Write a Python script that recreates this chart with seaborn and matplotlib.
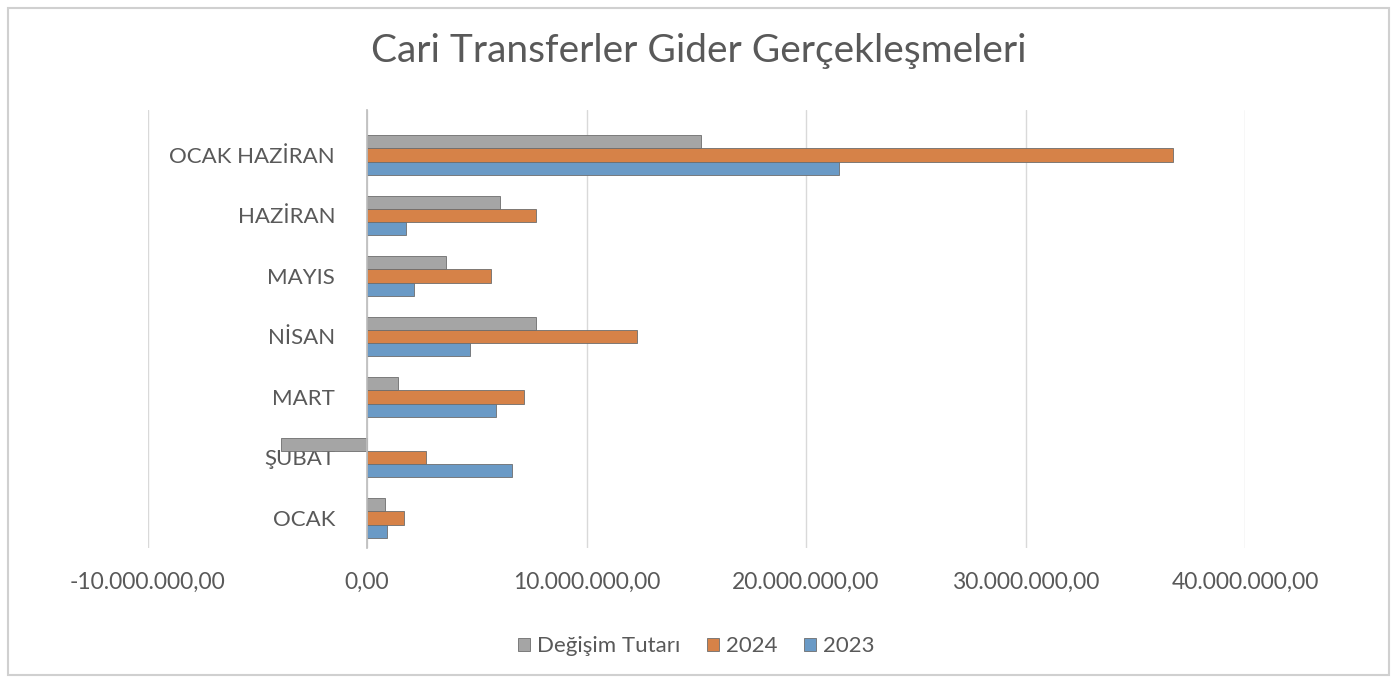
import matplotlib
matplotlib.use("Agg")
import matplotlib.pyplot as plt
import matplotlib.ticker as mticker
from matplotlib.patches import Rectangle
import seaborn as sns
import pandas as pd

# Data (TL)
months = ["OCAK HAZİRAN", "HAZİRAN", "MAYIS", "NİSAN", "MART", "ŞUBAT", "OCAK"]
degisim = [15.2e6, 6.06e6, 3.6e6, 7.7e6, 1.41e6, -3.92e6, 0.8e6]
y2024 = [36.7e6, 7.7e6, 5.65e6, 12.3e6, 7.15e6, 2.69e6, 1.7e6]
y2023 = [21.5e6, 1.78e6, 2.14e6, 4.7e6, 5.88e6, 6.6e6, 0.9e6]
series = ["Değişim Tutarı", "2024", "2023"]
colors = ["#A5A5A5", "#ED7D31", "#5B9BD5"]

df = pd.DataFrame({
    "ay": months * 3,
    "seri": [series[0]] * 7 + [series[1]] * 7 + [series[2]] * 7,
    "tutar": degisim + y2024 + y2023,
})

sns.set_theme(style="white")
plt.rcParams["font.family"] = ["Lato", "DejaVu Sans"]
text_col = "#595959"

fig = plt.figure(figsize=(13.97, 6.83), dpi=100)
ax = fig.add_axes([0.1056, 0.1973, 0.7856, 0.6422])

sns.barplot(data=df, y="ay", x="tutar", hue="seri", order=months, hue_order=series,
            palette=colors, orient="h", width=0.66, ax=ax, edgecolor="#6d6d6d", linewidth=0.6)

ax.set_xlim(-10e6, 40e6)
ax.set_ylim(6.5, -0.75)
ax.xaxis.set_major_locator(mticker.MultipleLocator(10e6))
ax.xaxis.set_major_formatter(mticker.FuncFormatter(
    lambda v, p: f"{v:,.2f}".replace(",", "X").replace(".", ",").replace("X", ".")))
ax.grid(axis="x", color="#D9D9D9", linewidth=1)
ax.set_axisbelow(True)
for s in ["top", "right", "bottom"]:
    ax.spines[s].set_visible(False)
ax.spines["left"].set_position(("data", 0))
ax.spines["left"].set_color("#BFBFBF")
ax.tick_params(axis="y", length=0, pad=23, labelsize=16, labelcolor=text_col)
ax.tick_params(axis="x", length=0, pad=17, labelsize=16.5, labelcolor=text_col)
ax.set_xlabel("")
ax.set_ylabel("")

ax.legend(loc="upper center", bbox_to_anchor=(0.5, -0.155), ncol=3, frameon=False,
          fontsize=16, labelcolor=text_col, handlelength=0.55, handleheight=0.55,
          handletextpad=0.3, columnspacing=1.2)

fig.suptitle("Cari Transferler Gider Gerçekleşmeleri", y=0.952, fontsize=28, color=text_col)

fig.patches.append(Rectangle((0.006, 0.012), 0.988, 0.976, transform=fig.transFigure,
                             fill=False, edgecolor="#D0D0D0", linewidth=1.5))

fig.savefig("out.png", dpi=100)
